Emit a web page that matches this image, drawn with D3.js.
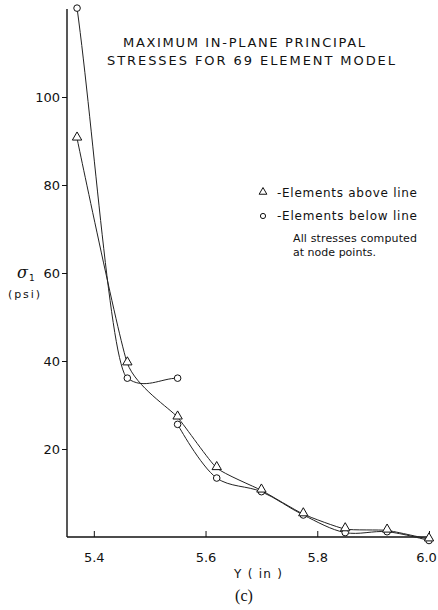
<!DOCTYPE html>
<html>
<head>
<meta charset="utf-8">
<script src="https://cdn.jsdelivr.net/npm/d3@7"></script>
<style>
  body { margin: 0; background: #fff; }
  text { fill: #111; }
</style>
</head>
<body>
<script>
//values
var aboveY = [5.37, 5.46, 5.55, 5.62, 5.70, 5.775, 5.85, 5.925, 6.0],
    aboveS = [90.6, 39.5, 27.2, 15.7, 10.6, 5.2, 1.8, 1.5, -0.5];

//elements below line, upper branch ends at 5.55
var belowY1 = [5.37, 5.46, 5.55],
    belowS1 = [120.2, 36.1, 36.1];
var belowY2 = [5.55, 5.62, 5.70, 5.775, 5.85, 5.925, 6.0],
    belowS2 = [25.6, 13.4, 10.3, 5.0, 1.0, 1.2, -0.8];

var xTicks = [5.4, 5.6, 5.8, 6.0],
    yTicks = [20, 40, 60, 80, 100];

var titleLines = ["MAXIMUM IN-PLANE PRINCIPAL", "STRESSES FOR 69 ELEMENT MODEL"];
var legendLines = ["-Elements above line", "-Elements below line"];
var noteLines = ["All stresses computed", "at node points."];

window.onload = drawChart();

//hermite curve in x: end tangents along the end chords, inner tangents a
//fraction of the central difference (upper branch is straight, then hooks)
function curveHook(bend) {
  return function(context) {
    var pts;
    return {
      areaStart: function() {},
      areaEnd: function() {},
      lineStart: function() { pts = []; },
      point: function(x, y) { pts.push([+x, +y]); },
      lineEnd: function() {
        var n = pts.length, m = [], i;
        if (!n) return;
        context.moveTo(pts[0][0], pts[0][1]);
        if (n < 2) return;
        function sl(a, b) { return (pts[b][1] - pts[a][1]) / (pts[b][0] - pts[a][0]); }
        m[0] = sl(0, 1);
        m[n - 1] = sl(n - 2, n - 1);
        for (i = 1; i < n - 1; i++) m[i] = bend * sl(i - 1, i + 1);
        for (i = 0; i < n - 1; i++) {
          var d = (pts[i + 1][0] - pts[i][0]) / 3;
          context.bezierCurveTo(pts[i][0] + d, pts[i][1] + m[i] * d,
                                pts[i + 1][0] - d, pts[i + 1][1] - m[i + 1] * d,
                                pts[i + 1][0], pts[i + 1][1]);
        }
      }
    };
  };
}

function drawChart() {

  var width = 438,
      height = 610;

  var svg = d3.select("body")
        .append("svg")
        .attr("width", width)
        .attr("height", height)
        .style("font-family", "'DejaVu Sans', sans-serif");

  //scales
  var x = d3.scaleLinear().domain([5.352, 6.0]).range([67, 429]);
  var y = d3.scaleLinear().domain([0, 120]).range([537, 9]);

  //axes
  var xAxis = d3.axisBottom(x).tickValues(xTicks).tickSize(-6).tickFormat(d3.format(".1f"));
  var yAxis = d3.axisLeft(y).tickValues(yTicks).tickSize(5).tickFormat(d3.format("d"));

  var gx = svg.append("g")
        .attr("transform", "translate(0," + y(0) + ")")
        .call(xAxis);
  gx.select(".domain").remove();
  gx.append("line")
    .attr("x1", 67).attr("x2", 430)
    .attr("stroke", "#111").attr("stroke-width", 1.3);
  gx.selectAll(".tick line").attr("stroke", "#111");
  gx.selectAll(".tick text")
    .attr("y", 16)
    .attr("dx", function(d) { return d == 6.0 ? -3 : 0; })
    .attr("fill", "#111")
    .style("font-size", "13px")
    .style("font-family", "'DejaVu Sans', sans-serif");

  var gy = svg.append("g")
        .attr("transform", "translate(" + x.range()[0] + ",0)")
        .call(yAxis);
  gy.select(".domain").remove();
  gy.append("line")
    .attr("y1", y(120)).attr("y2", y(0))
    .attr("stroke", "#111").attr("stroke-width", 1.4);
  gy.selectAll(".tick line").attr("stroke", "#111");
  gy.selectAll(".tick text")
    .attr("x", -7)
    .attr("fill", "#111")
    .style("font-size", "13px")
    .style("font-family", "'DejaVu Sans', sans-serif");

  //lines
  function makeLine(curve) {
    return d3.line()
      .x(function(d) { return x(d[0]); })
      .y(function(d) { return y(d[1]); })
      .curve(curve);
  }

  var above = d3.zip(aboveY, aboveS),
      below1 = d3.zip(belowY1, belowS1),
      below2 = d3.zip(belowY2, belowS2);

  var series = [
    { pts: above, line: makeLine(d3.curveCardinal.tension(0.5)) },
    { pts: below1, line: makeLine(curveHook(0.2)) },
    { pts: below2, line: makeLine(d3.curveCatmullRom.alpha(0.5)) }
  ];

  series.forEach(function(s) {
    svg.append("path")
      .datum(s.pts)
      .attr("d", s.line)
      .attr("fill", "none")
      .attr("stroke", "#222")
      .attr("stroke-width", 1);
  });

  //markers
  var tri = d3.symbol().type(d3.symbolTriangle).size(38);

  svg.selectAll(".circ")
    .data(below1.concat(below2))
    .enter()
    .append("circle")
    .attr("class", "circ")
    .attr("cx", function(d) { return x(d[0]); })
    .attr("cy", function(d) { return y(d[1]); })
    .attr("r", 3.3)
    .attr("fill", "#fff")
    .attr("stroke", "#111")
    .attr("stroke-width", 1);

  svg.selectAll(".tri")
    .data(above)
    .enter()
    .append("path")
    .attr("class", "tri")
    .attr("d", tri)
    .attr("transform", function(d) { return "translate(" + x(d[0]) + "," + (y(d[1]) - 1) + ")"; })
    .attr("fill", "#fff")
    .attr("stroke", "#111")
    .attr("stroke-width", 1);

  //title
  var titleX = [123, 107], titleW = [242, 288], titleBase = [47, 65];
  svg.selectAll(".title")
    .data(titleLines)
    .enter()
    .append("text")
    .attr("class", "title")
    .attr("x", function(d, i) { return titleX[i]; })
    .attr("y", function(d, i) { return titleBase[i]; })
    .attr("textLength", function(d, i) { return titleW[i]; })
    .attr("lengthAdjust", "spacing")
    .style("font-size", "13px")
    .text(function(d) { return d; });

  //legend
  var legBase = [197, 220];
  svg.selectAll(".leg")
    .data(legendLines)
    .enter()
    .append("text")
    .attr("class", "leg")
    .attr("x", 277)
    .attr("y", function(d, i) { return legBase[i]; })
    .attr("textLength", 140)
    .attr("lengthAdjust", "spacing")
    .style("font-size", "12px")
    .text(function(d) { return d; });

  svg.append("path")
    .attr("d", d3.symbol().type(d3.symbolTriangle).size(26))
    .attr("transform", "translate(263,192)")
    .attr("fill", "#fff").attr("stroke", "#111");
  svg.append("circle")
    .attr("cx", 263).attr("cy", 216).attr("r", 2.6)
    .attr("fill", "#fff").attr("stroke", "#111");

  var noteBase = [242, 256];
  svg.selectAll(".note")
    .data(noteLines)
    .enter()
    .append("text")
    .attr("class", "note")
    .attr("x", 293)
    .attr("y", function(d, i) { return noteBase[i]; })
    .attr("textLength", function(d, i) { return i == 0 ? 124 : 83; })
    .attr("lengthAdjust", "spacing")
    .style("font-size", "11px")
    .text(function(d) { return d; });

  //axis labels
  var sig = svg.append("text")
        .attr("x", 17)
        .attr("y", 278)
        .style("font-family", "'DejaVu Serif', serif")
        .style("font-size", "16px")
        .style("font-style", "italic")
        .text("σ");
  sig.append("tspan")
    .attr("dy", 3)
    .attr("dx", 1)
    .style("font-size", "9px")
    .style("font-style", "normal")
    .style("font-family", "'DejaVu Sans', sans-serif")
    .text("1");

  svg.append("text")
    .attr("x", 8)
    .attr("y", 298)
    .attr("textLength", 32)
    .attr("lengthAdjust", "spacing")
    .style("font-size", "11px")
    .text("(psi)");

  svg.append("text")
    .attr("x", 234)
    .attr("y", 578)
    .attr("textLength", 48)
    .attr("lengthAdjust", "spacing")
    .style("font-size", "12px")
    .text("Y ( in )");

  svg.append("text")
    .attr("x", 244)
    .attr("y", 601)
    .attr("text-anchor", "middle")
    .style("font-family", "'Liberation Serif', 'DejaVu Serif', serif")
    .style("font-size", "16px")
    .text("(c)");
}
</script>
</body>
</html>
